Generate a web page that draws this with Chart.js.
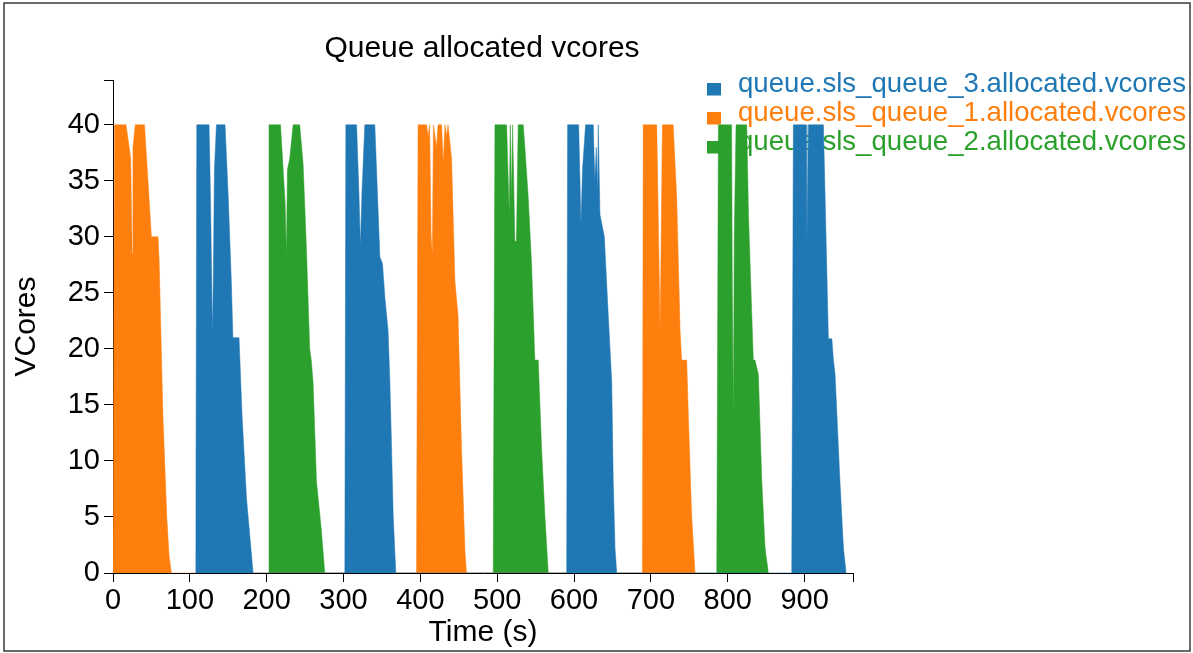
<!DOCTYPE html>
<html>
<head>
<meta charset="utf-8">
<script src="https://cdn.jsdelivr.net/npm/chart.js@4.4.1/dist/chart.umd.min.js"></script>
<style>
  html, body { margin: 0; padding: 0; background: #ffffff; }
  canvas { display: block; }
</style>
</head>
<body>
<canvas id="c" width="1193" height="653"></canvas>
<script>
// ---- data ----
const chartTitle = "Queue allocated vcores";
const xTitle = "Time (s)";
const yTitle = "VCores";
const seriesNames = [
  "queue.sls_queue_3.allocated.vcores",
  "queue.sls_queue_1.allocated.vcores",
  "queue.sls_queue_2.allocated.vcores"
];
const seriesColors = ["#1f77b4", "#ff7f0e", "#2ca02c"];

// queue 3 (blue)
const queue3Time = [
  107.7, 109, 125, 127, 129.4, 130.5, 132, 134.6, 145.8, 150, 154, 156, 164, 168, 173.7, 182.3,
  301.7, 303, 317, 320, 322, 324, 327.7, 340.7, 347.3, 350.7, 353.8, 358, 360.3, 362.5, 364.6, 368,
  590.4, 591.6, 606, 609, 611, 615, 625, 627, 629, 630.7, 631.5, 633.7, 639.4, 644.5, 649, 651, 653.3, 655.5,
  883.3, 885.4, 902, 903, 905, 924.5, 931, 935.5, 937.5, 939.7, 946, 950.6, 954
];
const queue3Vcores = [
  0, 40, 40, 33, 21.3, 26, 36, 40, 40, 33.5, 26, 21, 21, 14, 6.7, 0,
  0, 40, 40, 34, 29.2, 34, 40, 40, 28.2, 27.6, 24.6, 21.6, 17.1, 11.2, 5.2, 0,
  0, 40, 40, 31.1, 36, 40, 40, 35, 38, 34, 40, 32, 30, 23, 17.1, 8.2, 2.2, 0,
  0, 40, 40, 29, 40, 40, 20.9, 20.9, 19, 17.7, 8.2, 2.2, 0
];

// queue 1 (orange)
const queue1Time = [
  0, 2, 17, 23, 25, 26, 29, 41, 50, 58.6, 60, 65, 70, 73, 76,
  395, 397, 408, 410, 412, 414, 415.6, 417, 421, 423, 427.6, 429.7, 432, 434, 436, 440.6, 445, 449, 453.6, 458, 460,
  689, 690, 707.6, 712, 715, 729, 733.6, 738, 740, 746.6, 748.7, 753, 757.4
];
const queue1Vcores = [
  0, 40, 40, 37, 28.5, 38, 40, 40, 30, 30, 28, 14, 5, 1.5, 0,
  0, 40, 40, 39, 40, 30, 28.4, 40, 38, 40, 40, 36.5, 40, 39, 40, 37, 26, 23, 11, 2, 0,
  0, 40, 40, 21.6, 40, 40, 33.5, 21.6, 19, 19, 14.1, 5.2, 0
];

// queue 2 (green)
const queue2Time = [
  201.8, 203, 218, 224, 225.7, 227, 230, 234.4, 243, 247.4, 251.7, 256, 258, 260.4, 264.8, 271.3, 275.6,
  494.8, 497, 512.2, 515.7, 517, 518.7, 520, 523, 525, 527.3, 533.9, 536, 540.4, 544.7, 549, 553.4, 557.8, 562, 566.4,
  785.7, 787.8, 805, 806, 807.3, 808.5, 810.8, 824.7, 827, 831.3, 833.3, 835.5, 839.9, 844.3, 848.6, 852.9
];
const queue2Vcores = [
  0, 40, 40, 33, 28.4, 36, 37, 40, 40, 36.5, 29, 20, 19, 17, 8.2, 3.7, 0,
  0, 40, 40, 32, 40, 33.5, 40, 29.6, 29.6, 40, 40, 38, 33.5, 27.6, 19, 19, 11, 5.2, 0,
  0, 40, 40, 25, 14.1, 30, 40, 40, 32, 23, 19, 19, 17.7, 8.2, 2.2, 0
];

const xMin = 0, xMax = 963, xStep = 100;
const yMin = 0, yMax = 44, yStep = 5;

// ---- build ----
function pts(times, vals) { return times.map((t, i) => ({ x: t, y: vals[i] })); }
const seriesData = [pts(queue3Time, queue3Vcores), pts(queue1Time, queue1Vcores), pts(queue2Time, queue2Vcores)];

const FONT = '"Liberation Sans", Arial, sans-serif';

const decor = {
  id: 'decor',
  beforeDatasetsDraw(chart) {
    const ctx = chart.ctx;
    ctx.save();
    ctx.font = '27.6px ' + FONT;
    ctx.textAlign = 'left';
    ctx.textBaseline = 'alphabetic';
    seriesNames.forEach((name, i) => {
      const yTop = 83 + i * 29;
      ctx.fillStyle = seriesColors[i];
      ctx.fillRect(707, yTop, 14, 12.5);
      ctx.fillText(name, 738, 92 + i * 29);
    });
    ctx.restore();
  },
  afterDraw(chart) {
    const ctx = chart.ctx;
    const a = chart.chartArea;
    ctx.save();
    // title
    ctx.fillStyle = '#000';
    ctx.font = '30px ' + FONT;
    ctx.textAlign = 'center';
    ctx.textBaseline = 'alphabetic';
    ctx.fillText(chartTitle, (a.left + a.right) / 2 - 1, 57);
    // outer ticks (domain ends)
    ctx.strokeStyle = '#000';
    ctx.lineWidth = 1;
    ctx.beginPath();
    ctx.moveTo(a.left - 9, Math.round(a.top) + 0.5);
    ctx.lineTo(a.left, Math.round(a.top) + 0.5);
    ctx.moveTo(Math.round(a.right) + 0.5, a.bottom);
    ctx.lineTo(Math.round(a.right) + 0.5, a.bottom + 9);
    ctx.stroke();
    // frame
    ctx.strokeStyle = '#3a3a3a';
    ctx.lineWidth = 1.5;
    ctx.strokeRect(4, 3, 1186, 648);
    ctx.restore();
  }
};

new Chart(document.getElementById('c'), {
  type: 'line',
  data: {
    datasets: seriesNames.map((name, i) => ({
      label: name,
      data: seriesData[i],
      backgroundColor: seriesColors[i],
      borderColor: seriesColors[i],
      borderWidth: 0.5,
      fill: 'origin',
      pointRadius: 0,
      tension: 0
    }))
  },
  options: {
    responsive: false,
    animation: false,
    events: [],
    layout: { padding: { left: 0, top: 80, right: 340, bottom: 0 } },
    plugins: {
      legend: { display: false },
      title: { display: false },
      tooltip: { enabled: false }
    },
    scales: {
      x: {
        type: 'linear',
        min: xMin, max: xMax,
        afterFit(s) { s.height = 80; },
        border: { display: true, color: '#000', width: 1 },
        grid: { display: true, drawOnChartArea: false, drawTicks: true, tickLength: 9, color: '#000' },
        ticks: { stepSize: xStep, includeBounds: false, color: '#000', font: { family: FONT, size: 29 }, padding: 2, maxRotation: 0 },
        title: { display: true, text: xTitle, color: '#000', font: { family: FONT, size: 30 }, padding: { top: 0, bottom: 2 } }
      },
      y: {
        type: 'linear',
        min: yMin, max: yMax,
        afterFit(s) { s.width = 113; },
        border: { display: true, color: '#000', width: 1 },
        grid: { display: true, drawOnChartArea: false, drawTicks: true, tickLength: 9, color: '#000' },
        ticks: { stepSize: yStep, includeBounds: false, color: '#000', font: { family: FONT, size: 29 }, padding: 4 },
        title: { display: true, text: yTitle, color: '#000', font: { family: FONT, size: 30 }, padding: { top: 9, bottom: 0 } }
      }
    }
  },
  plugins: [decor]
});
</script>
</body>
</html>
